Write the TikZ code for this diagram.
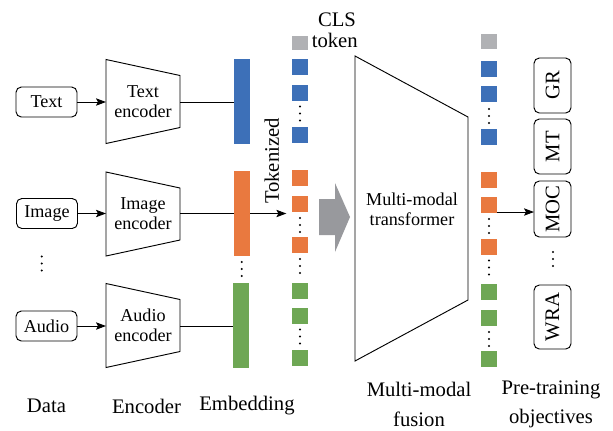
\documentclass[tikz,border=0pt]{standalone}
\usepackage{fontspec}
\setmainfont{Liberation Serif}
\usetikzlibrary{arrows.meta,calc}
\definecolor{cblue}{RGB}{61,112,184}
\definecolor{corange}{RGB}{233,121,63}
\definecolor{cgreen}{RGB}{110,167,84}
\definecolor{cgray}{RGB}{176,177,180}
\definecolor{carrow}{RGB}{152,153,157}
\begin{document}
\begin{tikzpicture}[x=0.75pt,y=-0.75pt,
 big/.style={font=\fontsize{15.5}{22}\selectfont},
 small/.style={font=\fontsize{13.6}{15}\selectfont},
 databox/.style={draw, rounded corners=4pt, line width=0.7pt, minimum width=45.75pt, minimum height=22.5pt, inner sep=0pt, small},
 tok/.style={minimum width=12pt, minimum height=12pt, inner sep=0pt},
 bar/.style={minimum width=12pt, minimum height=63.75pt, inner sep=0pt},
 objbox/.style={draw, rounded corners=4pt, line width=0.7pt, rotate=90, minimum height=27.75pt, inner sep=0pt, big},
 conn/.style={line width=0.7pt},
 arr/.style={conn, -{Stealth[length=7.5pt,width=5.5pt,inset=1.5pt]}},
 vd/.pic={\fill (0,-7) circle (0.85pt) (0,0) circle (0.85pt) (0,7) circle (0.85pt);},
 ]
\useasboundingbox (0,0) rectangle (613,430);

% data boxes
\node[databox] (dtext) at (46.5,102) {Text};
\node[databox] (dimage) at (47,213.5) {Image};
\node[databox] (daudio) at (46.5,326) {Audio};
\pic at (41.7,263.5) {vd};

% encoders
\draw[conn] (106,59.5) -- (180,75.5) -- (180,127.5) -- (106,143.5) -- cycle;
\coordinate (tel) at (106,102); \coordinate (ter) at (180,102);
\node[small, align=center] (tenc) at (143,101.7) {Text\\encoder};
\draw[conn] (106,172) -- (180,188) -- (180,240) -- (106,256) -- cycle;
\coordinate (iel) at (106,213.5); \coordinate (ier) at (180,213.5);
\node[small, align=center] (ienc) at (143,213.7) {Image\\encoder};
\draw[conn] (106,283.5) -- (180,299.5) -- (180,351.5) -- (106,367.5) -- cycle;
\coordinate (ael) at (106,326); \coordinate (aer) at (180,326);
\node[small, align=center] (aenc) at (143,325.7) {Audio\\encoder};

\draw[arr] (dtext.east) -- (tel);
\draw[arr] (dimage.east) -- (iel);
\draw[arr] (daudio.east) -- (ael);

% token column 1
\node[tok, fill=cgray, minimum height=10.5pt] (c1) at (300,43) {};
\node[tok, fill=cblue] (b1) at (300,67) {};
\node[tok, fill=cblue] (b2) at (300,93) {};
\pic at (300,113.5) {vd};
\node[tok, fill=cblue] (b3) at (300,135) {};
\node[tok, fill=corange] (o1) at (300,178) {};
\node[tok, fill=corange] (o2) at (300,204) {};
\pic at (300,225) {vd};
\node[tok, fill=corange] (o3) at (300,245) {};
\pic at (300,266) {vd};
\node[tok, fill=cgreen] (g1) at (300,290.5) {};
\node[tok, fill=cgreen] (g2) at (300,316) {};
\pic at (300,336.5) {vd};
\node[tok, fill=cgreen] (g3) at (300,358) {};

% image arrow behind bar
\draw[arr, shorten >=4pt] (ier) -- (ier -| o2.west);

% embedding bars
\node[bar, fill=cblue] (eb) at (242,101.5) {};
\node[bar, fill=corange] (eo) at (242,213.5) {};
\pic at (241.7,269) {vd};
\node[bar, fill=cgreen] (eg) at (241,325.5) {};
\draw[conn] (ter) -- (ter -| eb.west);
\draw[conn] (aer) -- (aer -| eg.west);

\node[big, rotate=90] (tokz) at (271.7,161) {Tokenized};
\node[big] (cls) at (337,20) {CLS};
\node[big, anchor=west, inner sep=0pt] (clst) at (311.5,40) {token};

% big gray arrow
\fill[carrow] (319,199) -- (335,199) -- (335,183) -- (350,217) -- (335,252) -- (335,235) -- (319,235) -- cycle;

% fusion trapezoid
\draw[conn] (355,56) -- (468,117) -- (468,300) -- (355,361) -- cycle;
\node[small, align=center] (mmt) at (412,209) {Multi-modal\\transformer};

% token column 2
\node[tok, fill=cgray, minimum height=11pt] (c1b) at (489,41.5) {};
\node[tok, fill=cblue] (b1b) at (489,69) {};
\node[tok, fill=cblue] (b2b) at (489,94) {};
\pic at (489,116) {vd};
\node[tok, fill=cblue] (b3b) at (489,136.5) {};
\node[tok, fill=corange] (o1b) at (489,180) {};
\node[tok, fill=corange] (o2b) at (489,204.5) {};
\pic at (489,226) {vd};
\node[tok, fill=corange] (o3b) at (489,246.5) {};
\pic at (489,267.5) {vd};
\node[tok, fill=cgreen] (g1b) at (489,291.5) {};
\node[tok, fill=cgreen] (g2b) at (489,318) {};
\pic at (489,339) {vd};
\node[tok, fill=cgreen] (g3b) at (489,359) {};

% objectives
\node[objbox, minimum width=41.25pt] (gr) at (552.5,85.5) {GR};
\node[objbox, minimum width=41.25pt] (mt) at (552.5,146.5) {MT};
\node[objbox, minimum width=42pt] (moc) at (552.5,209) {MOC};
\pic at (553,259) {vd};
\node[objbox, minimum width=48pt] (wra) at (552.5,317) {WRA};
\coordinate (arrs) at (497,212);
\coordinate (arre) at (534,212);
\draw[arr] (arrs) -- (arre);

% bottom labels
\node[big] (ldata) at (46.5,406) {Data};
\node[big] (lenc) at (146.5,406) {Encoder};
\node[big] (lemb) at (247,406) {Embedding};
\node[big, align=center] (lfus) at (419,404.5) {Multi-modal\\fusion};
\node[big, align=center] (lobj) at (551,404.5) {Pre-training\\objectives};
\end{tikzpicture}
\end{document}
